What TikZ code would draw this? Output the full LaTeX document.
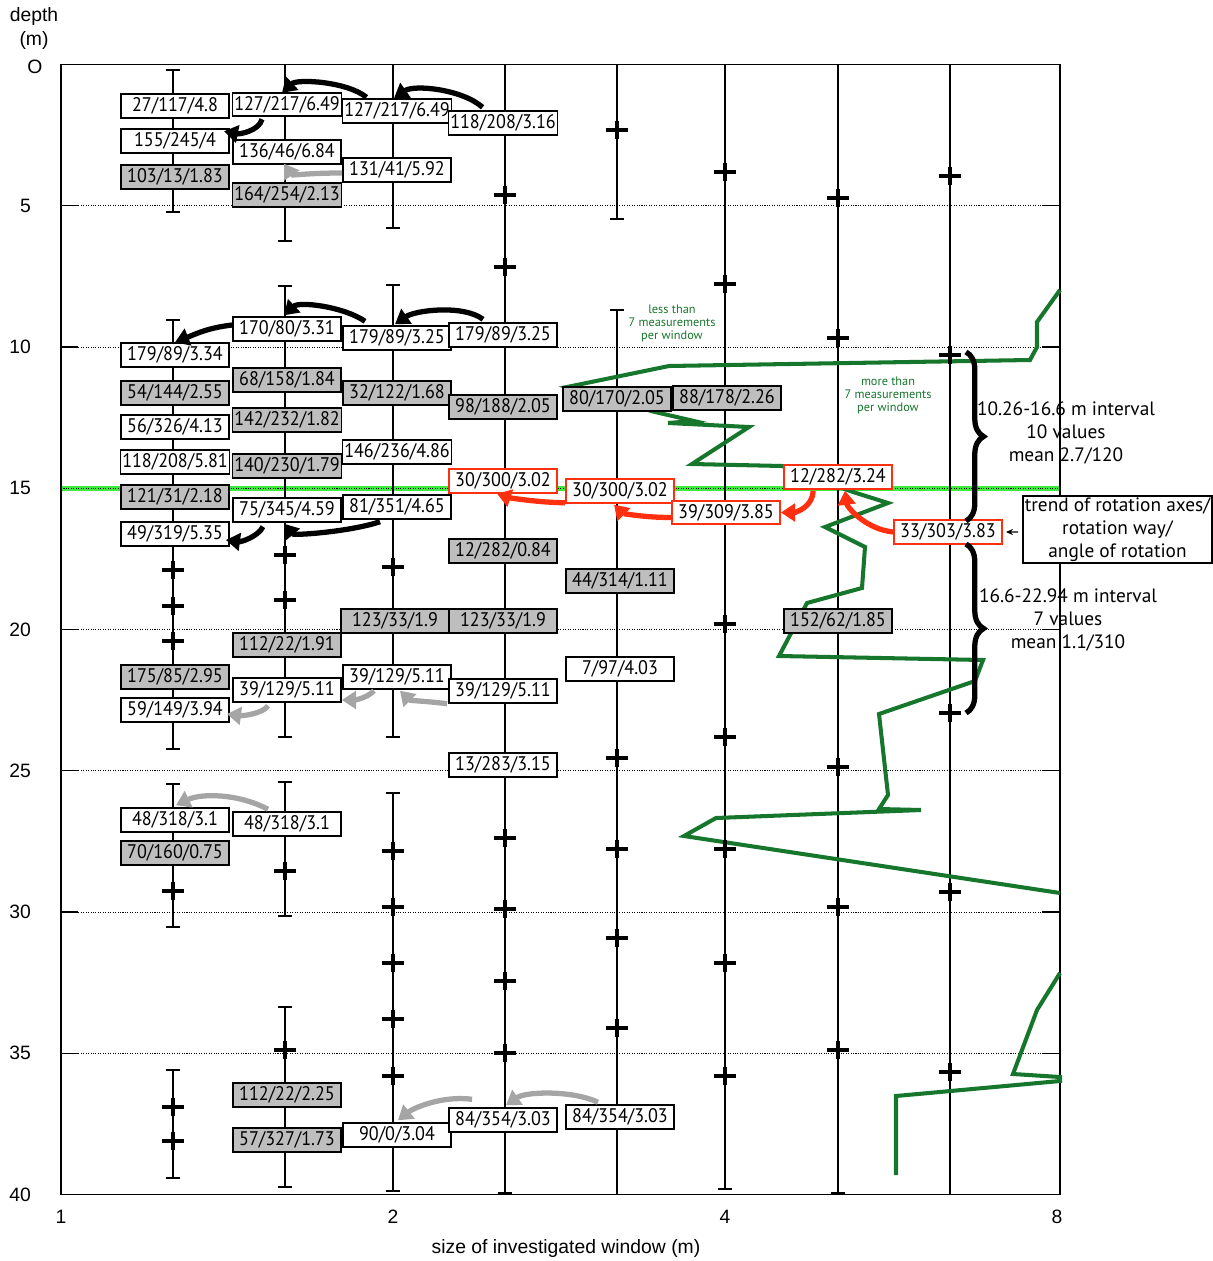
\documentclass[tikz,border=0pt]{standalone}
\usepackage{fontspec}
\setmainfont{PT Sans}
\newfontfamily\axisfont{Liberation Sans}
\newfontfamily\boxfont{PT Sans}[FakeStretch=0.92]
\usepackage{tikz}
\usetikzlibrary{arrows.meta}
\usetikzlibrary{calc}
\usetikzlibrary{decorations.pathreplacing}

\definecolor{boxgray}{RGB}{190,190,190}
\definecolor{arrgray}{RGB}{165,165,165}
\definecolor{arrred}{RGB}{255,48,16}
\definecolor{curvegreen}{RGB}{22,118,44}
\definecolor{linegreen}{RGB}{60,235,60}

\tikzset{
    valbox/.style={draw=black, line width=1.1pt, minimum width=2.16cm, minimum height=0.47cm,
        inner sep=1pt, font=\boxfont\fontsize{11.2}{12}\selectfont},
    wbox/.style={valbox, fill=white},
    gbox/.style={valbox, fill=boxgray},
    rbox/.style={valbox, fill=white, draw=arrred},
    blkarr/.style={line width=3pt, -{Triangle[length=8pt,width=10pt]}},
    grayarr/.style={blkarr, draw=arrgray},
    redarr/.style={blkarr, draw=arrred},
    barline/.style={line width=0.6pt},
    plusmark/.style={line width=2.2pt},
    gridline/.style={line width=0.5pt, dash pattern=on 0.6pt off 0.8pt},
    axislabel/.style={font=\axisfont\fontsize{11}{13}\selectfont},
    greennote/.style={text=curvegreen, align=center, font=\fontsize{7}{7.4}\selectfont},
    bracenote/.style={align=center, font=\fontsize{11}{13.3}\selectfont}
}

\newcommand{\depthy}[1]{64.5+28.25*#1}

\begin{document}
\begin{tikzpicture}[x=0.02cm, y=-0.02cm]
            \useasboundingbox (0,0) rectangle (1213,1261);

            \foreach \d in {5,10,...,35} {
                \draw[gridline] (61,\depthy{\d}) -- (1060,\depthy{\d});
                \draw[line width=0.6pt] (61,\depthy{\d}) -- (78,\depthy{\d}) (1042,\depthy{\d}) -- (1060,\depthy{\d});
            }
            \draw[linegreen, line width=2.6pt] (61,\depthy{15}) -- (1060,\depthy{15});
            \draw[gridline] (61,\depthy{15}) -- (1060,\depthy{15});
            \draw[line width=0.9pt] (61,64.5) rectangle (1060,1194.5);

            \node[axislabel] (ylab1) at (34,17) {depth};
            \node[axislabel] (ylab2) at (34,40) {(m)};
            \node[axislabel] (y0) at (35,67) {O};
            \foreach \d in {5,10,...,40}
                \node[axislabel, anchor=east] at (37,\depthy{\d}) {\d};
            \foreach \x/\t in {61/1, 393/2, 725/4, 1057/8}
                \node[axislabel] at (\x,1217) {\t};
            \node[axislabel] (xlab) at (566,1248) {size of investigated window (m)};

            \foreach \x/\ya/\yb in {173/70/212, 173/320/749, 173/784/927, 173/1070/1178,
                    285/64.5/241, 285/286/737, 285/782/916, 285/1007/1187,
                    393/64.5/228, 393/285/737, 393/793/1191,
                    505/64.5/1193, 617/64.5/219, 617/310/1194.5,
                    725/64.5/1189, 838/64.5/1193, 950/64.5/1194.5}
                \draw[barline] (\x,\ya) -- (\x,\yb) (\x-7,\ya) -- (\x+7,\ya) (\x-7,\yb) -- (\x+7,\yb);

            \draw[curvegreen, line width=2.3pt, line join=miter] (1060,290) -- (1037,322) -- (1037,347) -- (1030,360)
                -- (669,366) -- (567,387) -- (655,412) -- (694,421) -- (668,423) -- (749,427) -- (692,464)
                -- (782,466) -- (853,492) -- (888,503) -- (825,527) -- (865,547) -- (862,588) -- (807,603)
                -- (779,656) -- (983,660) -- (975,681) -- (879,714) -- (888,795) -- (879,809) -- (921,810)
                -- (716,818) -- (684,836) -- (1060,893);
            \draw[curvegreen, line width=2.3pt] (1060,973) -- (1037,1010) -- (1013,1074) -- (1060,1077)
                -- (1060,1081) -- (896,1096) -- (896,1175);

            \foreach \x/\y in {173/570, 173/606, 173/641, 173/891, 173/1107, 173/1141,
                    285/555, 285/600, 285/871, 285/1050,
                    393/567, 393/851, 393/907, 393/963, 393/1019, 393/1076,
                    505/195, 505/267, 505/838, 505/909, 505/981, 505/1053,
                    617/130, 617/758, 617/849, 617/938, 617/1028,
                    725/172, 725/284, 725/624, 725/737, 725/849, 725/963, 725/1076,
                    838/198, 838/338, 838/767, 838/907, 838/1050,
                    950/176, 950/355, 950/713, 950/892, 950/1072}
                \draw[plusmark] (\x-11,\y) -- (\x+11,\y) (\x,\y-9) -- (\x,\y+9);

            \node[greennote] (fewnote) at (672,323) {less than\\7 measurements\\per window};
            \node[greennote] (manynote) at (888,395) {more than\\7 measurements\\per window};

            \node[wbox] (c1a) at (175,106) {27/117/4.8};
            \node[wbox] (c1b) at (175,141) {155/245/4};
            \node[gbox] (c1c) at (175,177) {103/13/1.83};
            \node[wbox] (c1d) at (175,355) {179/89/3.34};
            \node[gbox] (c1e) at (175,393) {54/144/2.55};
            \node[wbox] (c1f) at (175,427) {56/326/4.13};
            \node[wbox] (c1g) at (175,462) {118/208/5.81};
            \node[gbox] (c1h) at (175,497) {121/31/2.18};
            \node[wbox] (c1i) at (175,534) {49/319/5.35};
            \node[gbox] (c1j) at (175,677) {175/85/2.95};
            \node[wbox] (c1k) at (175,710) {59/149/3.94};
            \node[wbox] (c1l) at (175,820) {48/318/3.1};
            \node[gbox] (c1m) at (175,853) {70/160/0.75};

            \node[wbox] (c2a) at (287,104.5) {127/217/6.49};
            \node[wbox] (c2b) at (287,152) {136/46/6.84};
            \node[gbox] (c2c) at (287,195) {164/254/2.13};
            \node[wbox] (c2d) at (287,329) {170/80/3.31};
            \node[gbox] (c2e) at (287,380) {68/158/1.84};
            \node[gbox] (c2f) at (287,420) {142/232/1.82};
            \node[gbox] (c2g) at (287,466) {140/230/1.79};
            \node[wbox] (c2h) at (287,510) {75/345/4.59};
            \node[gbox] (c2i) at (287,645) {112/22/1.91};
            \node[wbox] (c2j) at (287,690) {39/129/5.11};
            \node[wbox] (c2k) at (287,824) {48/318/3.1};
            \node[gbox] (c2l) at (287,1095) {112/22/2.25};
            \node[gbox] (c2m) at (287,1140) {57/327/1.73};

            \node[wbox] (c3a) at (397,111) {127/217/6.49};
            \node[wbox] (c3b) at (397,170) {131/41/5.92};
            \node[wbox] (c3c) at (397,338) {179/89/3.25};
            \node[gbox] (c3d) at (397,393) {32/122/1.68};
            \node[wbox] (c3e) at (397,452) {146/236/4.86};
            \node[wbox] (c3f) at (397,507) {81/351/4.65};
            \node[gbox] (c3g) at (395,621) {123/33/1.9};
            \node[wbox] (c3h) at (397,677) {39/129/5.11};
            \node[wbox] (c3i) at (397,1135) {90/0/3.04};

            \node[wbox] (c4a) at (503,123) {118/208/3.16};
            \node[wbox] (c4b) at (503,335) {179/89/3.25};
            \node[gbox] (c4c) at (503,407) {98/188/2.05};
            \node[rbox] (c4d) at (503,481) {30/300/3.02};
            \node[gbox] (c4e) at (503,551) {12/282/0.84};
            \node[gbox] (c4f) at (503,621) {123/33/1.9};
            \node[wbox] (c4g) at (503,691) {39/129/5.11};
            \node[wbox] (c4h) at (503,765) {13/283/3.15};
            \node[wbox] (c4i) at (503,1120) {84/354/3.03};

            \node[gbox] (c5a) at (617,399) {80/170/2.05};
            \node[rbox] (c5b) at (620,491) {30/300/3.02};
            \node[gbox] (c5c) at (620,581) {44/314/1.11};
            \node[wbox] (c5d) at (620,669) {7/97/4.03};
            \node[wbox] (c5e) at (620,1117) {84/354/3.03};

            \node[gbox] (c6a) at (727,398) {88/178/2.26};
            \node[rbox] (c6b) at (726,512.5) {39/309/3.85};
            \node[rbox] (c7a) at (838,477) {12/282/3.24};
            \node[gbox] (c7b) at (838,621) {152/62/1.85};
            \node[rbox] (c8a) at (948,532) {33/303/3.83};

            \node[draw, line width=1.1pt, fill=white, align=center, minimum width=3.74cm, minimum height=1.3cm,
                inner sep=1pt, font=\fontsize{11}{13.2}\selectfont] (key) at (1117.5,529.5)
                {trend of rotation axes/\\rotation way/\\angle of rotation};
            \draw[line width=0.6pt, -{Stealth[length=4pt,width=3.5pt]}] ($(key.west)+(-4,2.5)$) -- ($(c8a.east)+(3,0)$);

            \draw[line width=3pt, decorate, decoration={brace, amplitude=10pt}] (966,352) -- (966,521);
            \draw[line width=3pt, decorate, decoration={brace, amplitude=10pt}] (966,544) -- (966,713);
            \node[bracenote] (upper) at (1066,433) {10.26-16.6 m interval\\10 values\\mean 2.7/120};
            \node[bracenote] (lower) at (1068,620) {16.6-22.94 m interval\\7 values\\mean 1.1/310};

            \draw[blkarr] ($(c3a.north west)+(25,-1)$) .. controls +(-20,-16) and +(15,-14) .. ($(c2a.north)+(-5,1)$);
            \draw[blkarr] ($(c4a.north west)+(35,-3)$) .. controls +(-20,-18) and +(20,-14) .. ($(c3a.north)+(-3,0)$);
            \draw[blkarr] ($(c2a.south)+(-25,2)$) .. controls +(-3,12) and +(15,3) .. ($(c1b.north east)+(-6,3)$);
            \draw[grayarr] ($(c3b.west)+(0,3)$) .. controls +(-35,0) and +(8,12) .. ($(c2b.south)+(-3,-1)$);
            \draw[blkarr] ($(c3c.north west)+(23,-4)$) .. controls +(-22,-15) and +(15,-14) .. ($(c2d.north)+(-3,-1)$);
            \draw[blkarr] ($(c4b.north west)+(35,-3)$) .. controls +(-20,-15) and +(20,-14) .. ($(c3c.north)+(-2,-1)$);
            \draw[blkarr] ($(c2d.west)+(0,-4)$) .. controls +(-25,3) and +(20,-8) .. (c1d.north);
            \draw[blkarr] ($(c3f.south west)+(38,2)$) .. controls +(-30,10) and +(10,12) .. ($(c2h.south)+(-3,1)$);
            \draw[blkarr] ($(c2h.south)+(-24,4)$) .. controls +(-5,10) and +(15,2) .. ($(c1i.east)+(-4,6)$);
            \draw[redarr] ($(c5b.south west)+(0,-1)$) .. controls +(-25,0) and +(12,4) .. ($(c4d.south)+(-6,0)$);
            \draw[redarr] ($(c6b.west)+(0,5)$) .. controls +(-30,0) and +(8,8) .. ($(c5b.south)+(-6,1)$);
            \draw[redarr] ($(c7a.south west)+(30,1)$) .. controls +(0,16) and +(15,0) .. (c6b.east);
            \draw[redarr] (c8a.west) .. controls +(-28,-3) and +(2,16) .. ($(c7a.south)+(7,1)$);
            \draw[grayarr] ($(c4g.south west)+(-1,0)$) .. controls +(-25,-3) and +(10,10) .. ($(c3h.south)+(3,1)$);
            \draw[grayarr] ($(c3h.south west)+(32,1)$) .. controls +(-8,8) and +(12,0) .. ($(c2j.east)+(0,10)$);
            \draw[grayarr] ($(c2j.south)+(-19,3)$) .. controls +(-5,8) and +(15,2) .. ($(c1k.east)+(-3,4)$);
            \draw[grayarr] ($(c2k.north)+(-19,-2)$) .. controls +(-30,-16) and +(25,-12) .. ($(c1l.north)+(1,-2)$);
            \draw[grayarr] ($(c5e.north)+(-22,-2)$) .. controls +(-25,-12) and +(20,-14) .. ($(c4i.north)+(3,-2)$);
            \draw[grayarr] ($(c4i.north west)+(24,-8)$) .. controls +(-30,-4) and +(15,-12) .. ($(c3i.north)+(1,-2)$);
\end{tikzpicture}
\end{document}
